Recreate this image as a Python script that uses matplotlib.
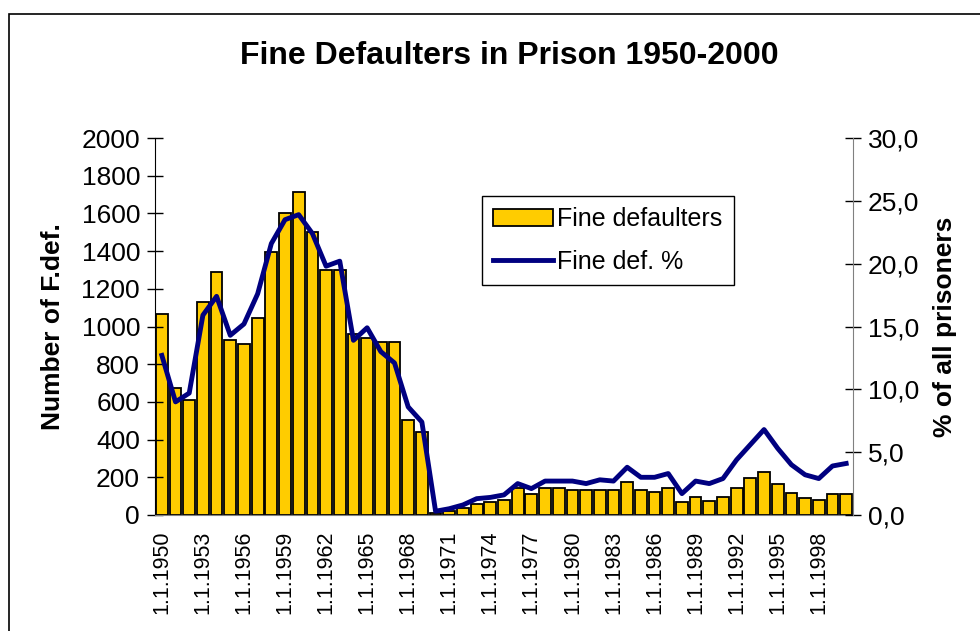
import numpy as np
import matplotlib
matplotlib.use('Agg')
import matplotlib.pyplot as plt
from matplotlib.patches import Rectangle

plt.rcParams['font.family'] = ['Liberation Sans', 'DejaVu Sans']

# data
years = list(range(1950, 2001))
defaulters = [1065, 672, 610, 1128, 1289, 927, 909, 1043, 1393, 1604,
              1712, 1500, 1300, 1300, 960, 940, 916, 916, 506, 439,
              12, 23, 39, 58, 67, 80, 141, 111, 141, 141,
              133, 133, 133, 133, 175, 133, 120, 141, 67, 97,
              76, 97, 141, 195, 226, 163, 118, 88, 78, 110, 110]
pct = [12.7, 9.0, 9.7, 15.9, 17.4, 14.3, 15.2, 17.6, 21.6, 23.5,
       23.9, 22.4, 19.8, 20.2, 13.9, 14.9, 13.0, 12.1, 8.6, 7.4,
       0.3, 0.5, 0.8, 1.3, 1.4, 1.6, 2.5, 2.1, 2.7, 2.7,
       2.7, 2.5, 2.8, 2.7, 3.8, 3.0, 3.0, 3.3, 1.7, 2.7,
       2.5, 2.9, 4.4, 5.6, 6.8, 5.3, 4.0, 3.2, 2.9, 3.9, 4.1]
left_ticks = [0, 200, 400, 600, 800, 1000, 1200, 1400, 1600, 1800, 2000]
right_ticks = [0, 5, 10, 15, 20, 25, 30]
tick_years = years[::3]

fig = plt.figure(figsize=(9.8, 6.31), dpi=100)
ax = fig.add_axes([155/980, 1-515/631, 698/980, 377/631])
ax2 = ax.twinx()

x = np.arange(len(years))
bars = ax.bar(x, defaulters, width=0.86, color='#FFCC00', edgecolor='black', linewidth=1.3)
line, = ax2.plot(x, pct, color='#000080', linewidth=3.5, solid_joinstyle='round')

ax.set_xlim(-0.5, len(years)-0.5)
ax.set_ylim(0, 2000)
ax2.set_ylim(0, 30)
ax.set_yticks(left_ticks)
ax.set_yticklabels([str(v) for v in left_ticks], fontsize=19)
ax2.set_yticks(right_ticks)
ax2.set_yticklabels([('%.1f' % v).replace('.', ',') for v in right_ticks], fontsize=19)
ax.set_xticks([years.index(y) for y in tick_years])
ax.set_xticklabels(['1.1.%d' % y for y in tick_years], rotation=90, fontsize=15.5)
ax.tick_params(axis='x', length=0, pad=11)
ax.tick_params(axis='y', direction='inout', length=11.5, width=1, pad=5)
ax2.tick_params(axis='y', direction='inout', length=11.5, width=1, pad=5)

for a in (ax, ax2):
    a.spines['top'].set_visible(False)
ax.spines['right'].set_visible(False)
ax2.spines['left'].set_visible(False)
ax2.spines['bottom'].set_visible(False)
ax2.spines['right'].set_color('#808080')
ax.spines['bottom'].set_color('#808080')

ax.set_ylabel('Number of F.def.', fontsize=19, fontweight='bold', labelpad=12)
ax2.set_ylabel('% of all prisoners', fontsize=19, fontweight='bold', labelpad=10)

fig.text(509/980, 1-56/631, 'Fine Defaulters in Prison 1950-2000', fontsize=23,
         fontweight='bold', ha='center', va='center')

leg = ax2.legend([bars, line], ['Fine defaulters', 'Fine def. %'], loc='upper left',
                 bbox_to_anchor=((482-155)/698, (515-196)/377), fontsize=18,
                 frameon=True, fancybox=False, edgecolor='black', framealpha=1,
                 handlelength=2.4, handletextpad=0.15, borderpad=0.45, labelspacing=0.75,
                 borderaxespad=0)
leg.get_frame().set_linewidth(1)

# outer chart frame
fig.patches.append(Rectangle((9/980, -0.1), 1.1, 1-14/631+0.1, transform=fig.transFigure,
                             fill=False, edgecolor='black', linewidth=1.2))

fig.savefig('out.png', dpi=100)
